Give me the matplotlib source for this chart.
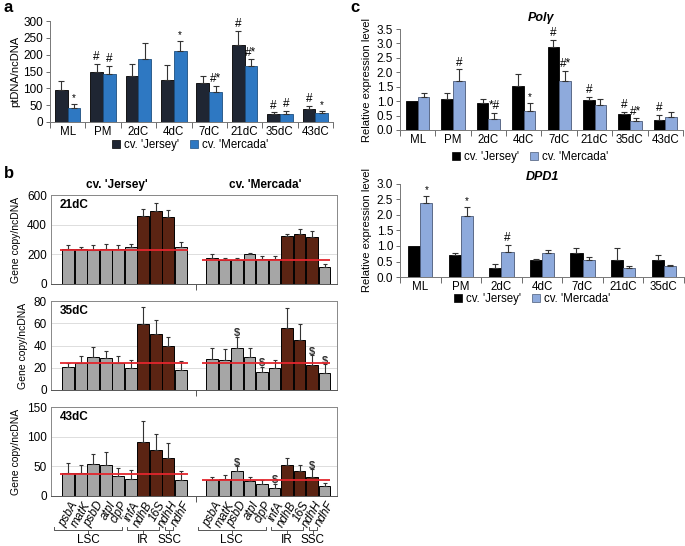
"""
Plastid DNA copy number and Polγ / DPD1 expression across leaf stages.
"""
import numpy as np
import matplotlib
matplotlib.use("Agg")
import matplotlib.pyplot as plt
from matplotlib.patches import Patch
from matplotlib.transforms import blended_transform_factory

plt.rcParams['font.family'] = ['Liberation Sans', 'DejaVu Sans']
plt.rcParams['font.size'] = 8.5

# ---- panel a: ptDNA/ncDNA ----
stages = ['ML', 'PM', '2dC', '4dC', '7dC', '21dC', '35dC', '43dC']
pt_jersey = [95, 150, 137, 125, 116, 230, 25, 39]
pt_jersey_err = [27, 22, 34, 44, 21, 40, 4, 10]
pt_mercada = [41, 143, 186, 211, 88, 166, 24, 26]
pt_mercada_err = [13, 23, 49, 30, 19, 20, 9, 8]
pt_jersey_sig = ['', '#', '', '', '', '#', '#', '#']
pt_mercada_sig = ['*', '#', '', '*', '#*', '#*', '#', '*']

# ---- panel b: gene copy / ncDNA ----
genes = ['psbA', 'matK', 'psbD', 'atpI', 'clpP', 'infA', 'ndhB', '16S', 'ndhH', 'ndhF']
ir_genes = ['ndhB', '16S', 'ndhH']

b21_jersey = [239, 239, 232, 239, 239, 250, 459, 491, 453, 250]
b21_jersey_err = [22, 13, 29, 29, 22, 18, 46, 52, 45, 34]
b21_mercada = [178, 164, 164, 200, 171, 167, 322, 340, 318, 115]
b21_mercada_err = [22, 12, 12, 12, 18, 22, 18, 29, 38, 18]
b21_sig = ['', '', '', '', '', '', '', '', '', '']
b21_mean = [230, 160]

b35_jersey = [21, 24.6, 30, 28.5, 24.6, 19.5, 59.6, 50.6, 39.6, 17.7]
b35_jersey_err = [3.6, 6.3, 8.7, 6.5, 6, 7.5, 14.7, 12, 8.4, 8.3]
b35_mercada = [27.6, 27, 37.5, 29.4, 15.9, 19.5, 55.4, 45, 22.5, 15]
b35_mercada_err = [10.4, 9.5, 10.5, 8.6, 5.1, 7.5, 18, 14, 9, 8.4]
b35_sig = ['', '', '$', '', '$', '', '', '', '$', '$']
b35_mean = [24, 24]

b43_jersey = [38, 38, 54, 51.5, 33, 28, 91.7, 77.5, 64.5, 26.6]
b43_jersey_err = [18, 15, 16, 22, 14.5, 15, 35, 26.5, 24.5, 15.4]
b43_mercada = [27.7, 28.3, 42, 25.5, 20, 13.6, 52, 42.4, 32, 17]
b43_mercada_err = [4.3, 6.7, 8.4, 6.5, 7.7, 7.4, 11.4, 10.6, 12.7, 5]
b43_sig = ['', '', '$', '', '', '$', '', '', '$', '']
b43_mean = [37.5, 26.6]

regions = ['LSC', 'IR', 'SSC']

# ---- panel c: relative expression ----
pol_jersey = [1.0, 1.06, 0.92, 1.52, 2.86, 1.04, 0.55, 0.35]
pol_jersey_err = [0, 0.21, 0.17, 0.42, 0.26, 0.12, 0.09, 0.17]
pol_mercada = [1.155, 1.70, 0.37, 0.67, 1.71, 0.87, 0.31, 0.46]
pol_mercada_err = [0.13, 0.41, 0.23, 0.28, 0.35, 0.19, 0.09, 0.18]
pol_jersey_sig = ['', '', '', '', '#', '#', '#', '#']
pol_mercada_sig = ['', '#', '*#', '*', '#*', '', '#*', '']

dpd_stages = ['ML', 'PM', '2dC', '4dC', '7dC', '21dC', '35dC']
dpd_jersey = [1.0, 0.70, 0.30, 0.54, 0.76, 0.54, 0.54]
dpd_jersey_err = [0, 0.06, 0.13, 0.03, 0.18, 0.38, 0.18]
dpd_mercada = [2.40, 1.96, 0.81, 0.76, 0.54, 0.30, 0.37]
dpd_mercada_err = [0.21, 0.31, 0.22, 0.12, 0.11, 0.07, 0.03]
dpd_jersey_sig = ['', '', '', '', '', '', '']
dpd_mercada_sig = ['*', '*', '#', '', '', '', '']

W, H = 685, 546


def rect(l, t, r, b):
    return [l / W, 1 - b / H, (r - l) / W, (b - t) / H]


def sig_text(ax, x, top, s, dy):
    if not s:
        return
    size = 7 if s == '*' else 8.5
    ax.text(x, top + dy, s, ha='center', va='bottom', fontsize=size)


def grouped(ax, cats, ya, ea, sa, yb, eb, sb, ca, cb, edge_b, width, dy, errc):
    x = np.arange(len(cats))
    off = width / 2
    ax.bar(x - off, ya, width, color=ca, edgecolor='black', linewidth=0.6, zorder=2)
    ax.bar(x + off, yb, width, color=cb, edgecolor=edge_b, linewidth=0.6, zorder=2)
    for xs, ys, es, ss in [(x - off, ya, ea, sa), (x + off, yb, eb, sb)]:
        for xi, yi, ei, si in zip(xs, ys, es, ss):
            if ei > 0:
                ax.errorbar(xi, yi, yerr=[[0], [ei]], fmt='none', ecolor=errc,
                            elinewidth=0.8, capsize=2, capthick=0.8, zorder=3)
            sig_text(ax, xi, yi + ei, si, dy)
    ax.set_xlim(-0.5, len(cats) - 0.5)
    ax.set_xticks(x)
    ax.set_xticklabels(cats, fontsize=8.3)
    ax.set_xticks(np.arange(len(cats) + 1) - 0.5, minor=True)
    ax.tick_params(axis='x', which='major', length=0, pad=3)
    ax.tick_params(axis='x', which='minor', length=4, width=0.6, color='#555555')
    ax.tick_params(axis='y', length=3, width=0.6, color='#555555', labelsize=8.5, pad=2)
    for sp in ['top', 'right']:
        ax.spines[sp].set_visible(False)
    for sp in ['left', 'bottom']:
        ax.spines[sp].set_color('#777777')
        ax.spines[sp].set_linewidth(0.7)


def legend(cx, cy, ca, cb, edge_b):
    handles = [Patch(facecolor=ca, edgecolor='black', linewidth=0.5, label="cv. 'Jersey'"),
               Patch(facecolor=cb, edgecolor=edge_b, linewidth=0.5, label="cv. 'Mercada'")]
    fig.legend(handles=handles, loc='center', bbox_to_anchor=(cx / W, 1 - cy / H),
               ncol=2, frameon=False, fontsize=8.3, handlelength=0.7, handleheight=0.7,
               handletextpad=0.3, columnspacing=1.0, borderpad=0)


fig = plt.figure(figsize=(W / 100, H / 100), dpi=100)

# panel a
ax_a = fig.add_axes(rect(50, 21, 333, 122))
grouped(ax_a, stages, pt_jersey, pt_jersey_err, pt_jersey_sig,
        pt_mercada, pt_mercada_err, pt_mercada_sig,
        '#1f2633', '#2e78c2', '#1d4f80', 0.36, 2, '#333333')
ax_a.set_ylim(0, 300)
ax_a.set_yticks(range(0, 301, 50))
ax_a.set_ylabel('ptDNA/ncDNA', fontsize=8, labelpad=2)
legend(190, 145, '#1f2633', '#2e78c2', '#1d4f80')

# panel c
ax_c1 = fig.add_axes(rect(400, 29, 683, 130))
grouped(ax_c1, stages, pol_jersey, pol_jersey_err, pol_jersey_sig,
        pol_mercada, pol_mercada_err, pol_mercada_sig,
        'black', '#8eaadc', '#4a5a78', 0.33, 0.02, '#333333')
ax_c1.set_ylim(0, 3.5)
ax_c1.set_yticks(np.arange(0, 3.51, 0.5))
ax_c1.set_yticklabels([f'{v:.1f}' for v in np.arange(0, 3.51, 0.5)])
ax_c1.set_ylabel('Relative expression level', fontsize=8, labelpad=3)
ax_c1.set_title('Polγ', fontsize=9, fontweight='bold', style='italic', pad=6)
legend(530, 157, 'black', '#8eaadc', '#4a5a78')

ax_c2 = fig.add_axes(rect(400, 184, 684, 277))
grouped(ax_c2, dpd_stages, dpd_jersey, dpd_jersey_err, dpd_jersey_sig,
        dpd_mercada, dpd_mercada_err, dpd_mercada_sig,
        'black', '#8eaadc', '#4a5a78', 0.3, 0.02, '#333333')
ax_c2.set_ylim(0, 3.0)
ax_c2.set_yticks(np.arange(0, 3.01, 0.5))
ax_c2.set_yticklabels([f'{v:.1f}' for v in np.arange(0, 3.01, 0.5)])
ax_c2.set_ylabel('Relative expression level', fontsize=8, labelpad=3)
ax_c2.set_title('DPD1', fontsize=9, fontweight='bold', style='italic', pad=3)
legend(532, 299, 'black', '#8eaadc', '#4a5a78')

# panel b
offset = 11.5
xj = np.arange(len(genes))
xm = xj + offset
gene_colors = ['#5b2413' if g in ir_genes else '#a6a6a6' for g in genes]
b_rows = [
    ('21dC', b21_jersey, b21_jersey_err, b21_mercada, b21_mercada_err, b21_sig, b21_mean,
     600, 200, (51, 195, 337, 284)),
    ('35dC', b35_jersey, b35_jersey_err, b35_mercada, b35_mercada_err, b35_sig, b35_mean,
     80, 20, (51, 301, 337, 390)),
    ('43dC', b43_jersey, b43_jersey_err, b43_mercada, b43_mercada_err, b43_sig, b43_mean,
     150, 50, (51, 407, 337, 496)),
]
b_axes = []
for name, yj, ej, ym, em, sig, mean, ymax, step, box in b_rows:
    ax = fig.add_axes(rect(*box))
    b_axes.append(ax)
    ax.set_axisbelow(True)
    ax.grid(axis='y', color='#dddddd', linewidth=0.7)
    for xs, ys, es in [(xj, yj, ej), (xm, ym, em)]:
        ax.bar(xs, ys, 0.95, color=gene_colors, edgecolor='black', linewidth=0.7, zorder=2)
        ax.errorbar(xs, ys, yerr=[np.zeros(len(es)), es], fmt='none', ecolor='#333333',
                    elinewidth=0.8, capsize=1.5, capthick=0.8, zorder=3)
    for xi, yi, ei, si in zip(xm, ym, em, sig):
        if si:
            ax.text(xi, yi + ei - ymax * 0.02, si, ha='center', va='bottom',
                    fontsize=8, fontweight='bold', color='#333333', zorder=4)
    ax.hlines(mean[0], -0.7, 9.6, color='#e3262d', linewidth=1.3, zorder=4)
    ax.hlines(mean[1], 10.7, 20.9, color='#e3262d', linewidth=1.3, zorder=4)
    ax.set_xlim(-1.38, 21.5)
    ax.set_ylim(0, ymax)
    ax.set_yticks(np.arange(0, ymax + 1, step))
    ax.set_xticks([10.25])
    ax.set_xticklabels([])
    ax.tick_params(axis='x', length=4, width=0.7, color='#555555', direction='out')
    ax.tick_params(axis='y', length=0, labelsize=8.5, pad=3)
    for sp in ax.spines.values():
        sp.set_color('#888888')
        sp.set_linewidth(0.7)
    ax.spines['bottom'].set_color('#555555')
    ax.text(0.03, 0.95, name, transform=ax.transAxes, ha='left', va='top',
            fontsize=8.5, fontweight='bold')
    ax.set_ylabel('Gene copy/ncDNA', fontsize=7.5, labelpad=4)

# gene labels and chromosome region brackets under the last b panel
ax = b_axes[-1]
tr = blended_transform_factory(ax.transData, ax.transAxes)
bracket_spans = [(-1.14, 4.3), (4.7, 7.26), (7.74, 8.38)]
for base in [0, offset]:
    for i, g in enumerate(genes):
        ax.text(base + i + 0.15, -0.04, g, transform=tr, rotation=60, ha='right', va='top',
                rotation_mode='anchor', fontsize=8.5, style='italic')
    for (x0, x1), lab in zip(bracket_spans, regions):
        x0, x1 = x0 + base, x1 + base
        xc = (x0 + x1) / 2
        ax.plot([x0, x0, x1, x1], [-0.35, -0.385, -0.385, -0.35], transform=tr,
                color='#555555', linewidth=0.7, clip_on=False)
        ax.plot([xc, xc], [-0.385, -0.42], transform=tr, color='#555555',
                linewidth=0.7, clip_on=False)
        ax.text(xc, -0.43, lab, transform=tr, ha='center', va='top', fontsize=8.5)

fig.text(117 / W, 1 - 185 / H, "cv. 'Jersey'", ha='center', va='center',
         fontsize=8.5, fontweight='bold')
fig.text(265 / W, 1 - 185 / H, "cv. 'Mercada'", ha='center', va='center',
         fontsize=8.5, fontweight='bold')

# panel letters
for letter, px, py in [('a', 4, 8), ('b', 4, 174), ('c', 350, 8)]:
    fig.text(px / W, 1 - py / H, letter, fontsize=12, fontweight='bold',
             ha='left', va='center')

fig.savefig('out.png', dpi=100)
